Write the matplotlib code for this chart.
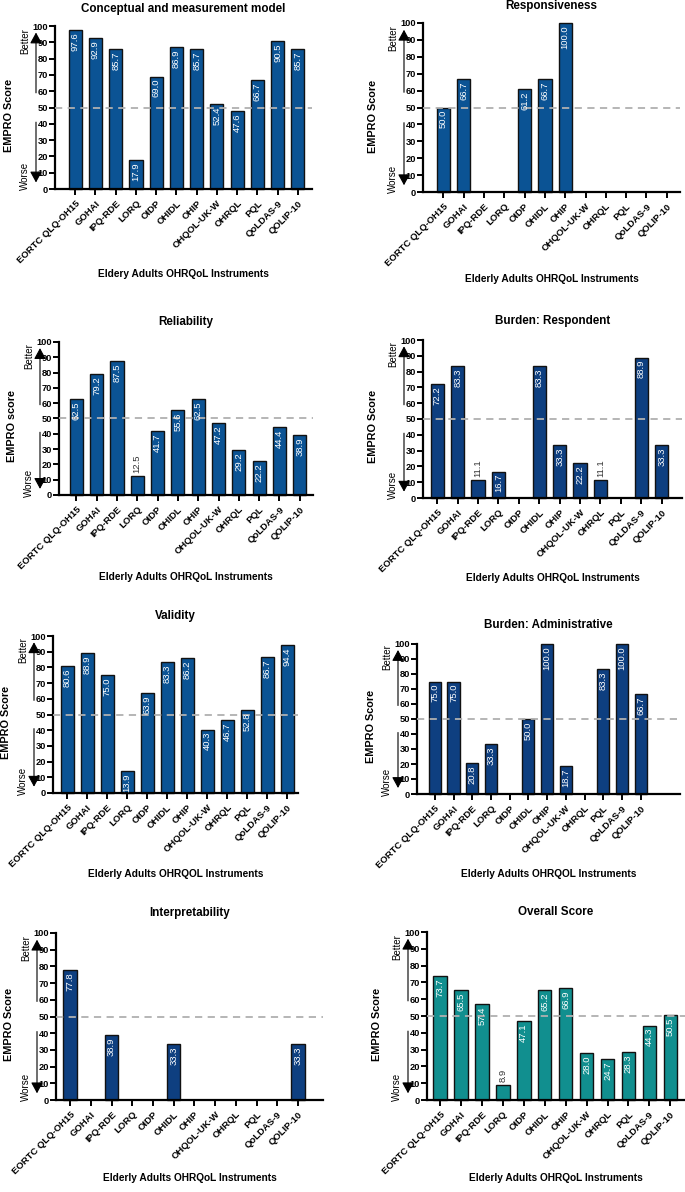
import numpy as np
import matplotlib
matplotlib.use('Agg')
import matplotlib.pyplot as plt
from matplotlib.transforms import blended_transform_factory, ScaledTranslation

plt.rcParams['font.family'] = ['Liberation Sans', 'DejaVu Sans']

nan = np.nan
instruments = ["EORTC QLQ-OH15", "GOHAI", "IPQ-RDE", "LORQ", "OIDP", "OHIDL", "OHIP",
               "OHQOL-UK-W", "OHRQL", "PQL", "QoLDAS-9", "QOLIP-10"]

conceptual = [97.6, 92.9, 85.7, 17.9, 69.0, 86.9, 85.7, 52.4, 47.6, 66.7, 90.5, 85.7]
responsiveness = [50.0, 66.7, nan, nan, 61.2, 66.7, 100.0, nan, nan, nan, nan, nan]
reliability = [62.5, 79.2, 87.5, 12.5, 41.7, 55.6, 62.5, 47.2, 29.2, 22.2, 44.4, 38.9]
burden_resp = [72.2, 83.3, 11.1, 16.7, nan, 83.3, 33.3, 22.2, 11.1, nan, 88.9, 33.3]
validity = [80.6, 88.9, 75.0, 13.9, 63.9, 83.3, 86.2, 40.3, 46.7, 52.8, 86.7, 94.4]
burden_admin = [75.0, 75.0, 20.8, 33.3, nan, 50.0, 100.0, 18.7, nan, 83.3, 100.0, 66.7]
interpretability = [77.8, nan, 38.9, nan, nan, 33.3, nan, nan, nan, nan, nan, 33.3]
overall = [73.7, 65.5, 57.4, 8.9, 47.1, 65.2, 66.9, 28.0, 24.7, 28.3, 44.3, 50.5]

titles = ["Conceptual and measurement model", "Responsiveness", "Reliability",
          "Burden: Respondent", "Validity", "Burden: Administrative",
          "Interpretability", "Overall Score"]
ylabels = ["EMPRO Score", "EMPRO Score", "EMPRO score", "EMPRO Score",
           "EMPRO Score", "EMPRO Score", "EMPRO Score", "EMPRO Score"]
xlabels = ["Eldery Adults OHRQoL Instruments", "Elderly Adults OHRQoL Instruments",
           "Elderly Adults OHRQoL Instruments", "Elderly Adults OHRQoL Instruments",
           "Elderly Adults OHRQOL Instruments", "Elderly Adults OHRQOL Instruments",
           "Elderly Adults OHRQoL Instruments", "Elderly Adults OHRQoL Instruments"]
series = [conceptual, responsiveness, reliability, burden_resp, validity,
          burden_admin, interpretability, overall]

# layout (pixels): axis left, right, top(100), bottom(0), xlim lo, xlim hi,
# title y, xlabel y, ylabel centre x
W, H = 685, 1192
layout = [
    (55, 312, 26, 189, -1.0, 11.7, 9, 274, 9),
    (423, 680, 23, 192, -1.0, 11.65, 6, 279, 373),
    (59, 313, 342, 495, -0.85, 11.65, 322, 577, 12),
    (423, 682, 340, 498, -0.7, 12.0, 321, 578, 373),
    (53, 298, 636, 793, -0.7, 11.55, 616, 874, 6),
    (417, 680, 644, 794, -0.95, 13.1, 625, 874, 371),
    (56, 323, 933, 1100, -0.68, 12.2, 913, 1178, 9),
    (427, 685, 932, 1100, -0.62, 11.7, 912, 1178, 377),
]
colors = ["#0B5394", "#0B5394", "#0B5394", "#0E3F80", "#0B5394", "#0E3F80",
          "#0E3F80", "#118F8F"]

fig = plt.figure(figsize=(W / 100, H / 100), dpi=100)

for i in range(8):
    xl, xr, yt, yb, lo, hi, ty, xly, ylx = layout[i]
    ax = fig.add_axes([xl / W, 1 - yb / H, (xr - xl) / W, (yb - yt) / H])
    vals = np.array(series[i], dtype=float)
    x = np.arange(len(instruments))
    bars = ax.bar(x, np.nan_to_num(vals), width=0.65, color=colors[i],
                  edgecolor="#111111", linewidth=1.0, zorder=2, clip_on=False)
    for b, v in zip(bars, vals):
        if np.isnan(v):
            b.set_visible(False)
    ax.set_xlim(lo, hi)
    ax.set_ylim(0, 100)
    ax.axhline(50, color="#b0b0b0", lw=1.3, ls=(0, (4, 3)), zorder=3)
    for xi, v in zip(x, vals):
        if np.isnan(v):
            continue
        if v >= 13:
            ax.text(xi, v - 1.5, f"{v:.1f}", rotation=90, ha="center", va="top",
                    color="white", fontsize=6.8, zorder=4)
        else:
            ax.text(xi, v + 2, f"{v:.1f}", rotation=90, ha="center", va="bottom",
                    color="#333333", fontsize=6.8, zorder=4)
    ax.spines["top"].set_visible(False)
    ax.spines["right"].set_visible(False)
    ax.spines["left"].set_linewidth(1.6)
    ax.spines["bottom"].set_linewidth(1.6)
    ax.set_yticks(np.arange(0, 101, 10))
    ax.set_xticks(x)
    ax.set_xticklabels(instruments, rotation=45, ha="right", rotation_mode="anchor",
                       fontsize=6.8, fontweight="bold")
    ax.tick_params(axis="y", labelsize=6.7, width=1.4, length=4, pad=1)
    ax.tick_params(axis="x", width=1.4, length=4, pad=3)
    for lab in ax.get_yticklabels():
        lab.set_fontweight("bold")
    ah = (yb - yt)
    aw = (xr - xl)
    ax.text(0.5, 1 + (yt - ty) / ah, titles[i], transform=ax.transAxes,
            fontsize=8.4, fontweight="bold", ha="center", va="center")
    ax.set_xlabel(xlabels[i], fontsize=7.3, fontweight="bold")
    ax.xaxis.set_label_coords(0.5, -(xly - yb) / ah)
    ax.xaxis.label.set_va("center")
    ax.set_ylabel(ylabels[i], fontsize=7.8, fontweight="bold")
    ax.yaxis.label.set_va("center")
    ax.yaxis.set_label_coords(-(xl - ylx) / aw, 0.45)
    # Better / Worse arrows
    tr_a = blended_transform_factory(ax.transAxes, ax.transData) + \
        ScaledTranslation(-0.19, 0, fig.dpi_scale_trans)
    tr_t = blended_transform_factory(ax.transAxes, ax.transData) + \
        ScaledTranslation(-0.30, 0, fig.dpi_scale_trans)
    style = "-|>,head_length=0.55,head_width=0.3"
    ax.annotate("", xy=(0, 96), xytext=(0, 59), xycoords=tr_a, textcoords=tr_a,
                arrowprops=dict(arrowstyle=style, lw=0.8, color="black",
                                mutation_scale=12, shrinkA=0, shrinkB=0),
                annotation_clip=False)
    ax.annotate("", xy=(0, 4), xytext=(0, 41), xycoords=tr_a, textcoords=tr_a,
                arrowprops=dict(arrowstyle=style, lw=0.8, color="black",
                                mutation_scale=12, shrinkA=0, shrinkB=0),
                annotation_clip=False)
    ax.text(0, 91, "Better", transform=tr_t, rotation=90, ha="center", va="center",
            fontsize=7)
    ax.text(0, 8, "Worse", transform=tr_t, rotation=90, ha="center", va="center",
            fontsize=7)

fig.savefig("out.png", dpi=100)
